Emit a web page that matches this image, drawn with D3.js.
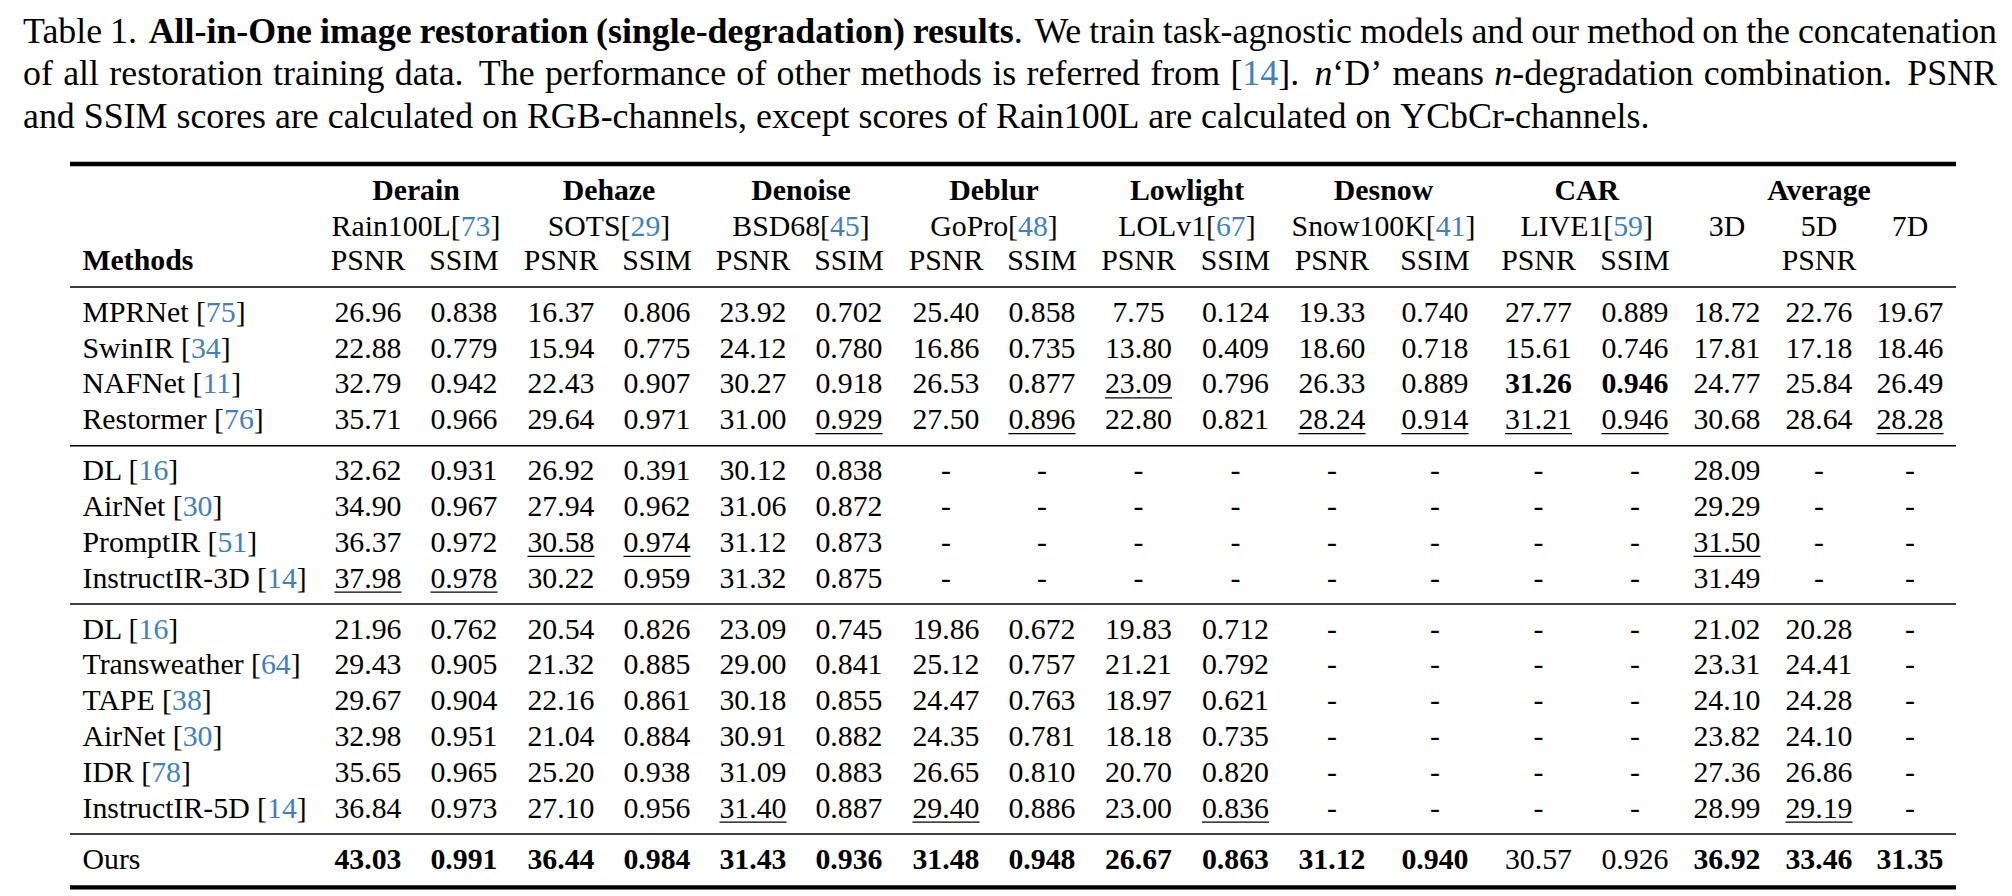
<!DOCTYPE html>
<html><head><meta charset="utf-8">
<script src="https://cdn.jsdelivr.net/npm/d3@7"></script>
<style>html,body{margin:0;padding:0;background:#fff;overflow:hidden;} svg{display:block;}</style>
</head><body>
<script>
// ---------------- DATA ----------------
const methods = ["MPRNet","SwinIR","NAFNet","Restormer","DL","AirNet","PromptIR","InstructIR-3D","DL","Transweather","TAPE","AirNet","IDR","InstructIR-5D","Ours"];
const methodRefs = ["75","34","11","76","16","30","51","14","16","64","38","30","78","14",null];
const rowGroups = [0,0,0,0,1,1,1,1,2,2,2,2,2,2,3];

const tasks = ["Derain","Dehaze","Denoise","Deblur","Lowlight","Desnow","CAR"];
const datasets = ["Rain100L","SOTS","BSD68","GoPro","LOLv1","Snow100K","LIVE1"];
const datasetRefs = ["73","29","45","48","67","41","59"];
const metricLabels = ["PSNR","SSIM"];
const avgTitle = "Average";
const avgLabels = ["3D","5D","7D"];

const derainPSNR  = [26.96,22.88,32.79,35.71,32.62,34.90,36.37,37.98,21.96,29.43,29.67,32.98,35.65,36.84,43.03];
const derainSSIM  = [0.838,0.779,0.942,0.966,0.931,0.967,0.972,0.978,0.762,0.905,0.904,0.951,0.965,0.973,0.991];
const dehazePSNR  = [16.37,15.94,22.43,29.64,26.92,27.94,30.58,30.22,20.54,21.32,22.16,21.04,25.20,27.10,36.44];
const dehazeSSIM  = [0.806,0.775,0.907,0.971,0.391,0.962,0.974,0.959,0.826,0.885,0.861,0.884,0.938,0.956,0.984];
const denoisePSNR = [23.92,24.12,30.27,31.00,30.12,31.06,31.12,31.32,23.09,29.00,30.18,30.91,31.09,31.40,31.43];
const denoiseSSIM = [0.702,0.780,0.918,0.929,0.838,0.872,0.873,0.875,0.745,0.841,0.855,0.882,0.883,0.887,0.936];
const deblurPSNR  = [25.40,16.86,26.53,27.50,null,null,null,null,19.86,25.12,24.47,24.35,26.65,29.40,31.48];
const deblurSSIM  = [0.858,0.735,0.877,0.896,null,null,null,null,0.672,0.757,0.763,0.781,0.810,0.886,0.948];
const lowlightPSNR= [7.75,13.80,23.09,22.80,null,null,null,null,19.83,21.21,18.97,18.18,20.70,23.00,26.67];
const lowlightSSIM= [0.124,0.409,0.796,0.821,null,null,null,null,0.712,0.792,0.621,0.735,0.820,0.836,0.863];
const desnowPSNR  = [19.33,18.60,26.33,28.24,null,null,null,null,null,null,null,null,null,null,31.12];
const desnowSSIM  = [0.740,0.718,0.889,0.914,null,null,null,null,null,null,null,null,null,null,0.940];
const carPSNR     = [27.77,15.61,31.26,31.21,null,null,null,null,null,null,null,null,null,null,30.57];
const carSSIM     = [0.889,0.746,0.946,0.946,null,null,null,null,null,null,null,null,null,null,0.926];
const avg3D       = [18.72,17.81,24.77,30.68,28.09,29.29,31.50,31.49,21.02,23.31,24.10,23.82,27.36,28.99,36.92];
const avg5D       = [22.76,17.18,25.84,28.64,null,null,null,null,20.28,24.41,24.28,24.10,26.86,29.19,33.46];
const avg7D       = [19.67,18.46,26.49,28.28,null,null,null,null,null,null,null,null,null,null,31.35];

// best (bold) and second best (underlined): "row:column"
const bestCells = ["2:carP","2:carS","14:derainP","14:derainS","14:dehazeP","14:dehazeS","14:denoiseP","14:denoiseS",
  "14:deblurP","14:deblurS","14:lowP","14:lowS","14:snowP","14:snowS","14:avg3","14:avg5","14:avg7"];
const secondCells = ["2:lowP","3:denoiseS","3:deblurS","3:snowP","3:snowS","3:carP","3:carS","3:avg7",
  "6:dehazeP","6:dehazeS","6:avg3","7:derainP","7:derainS","13:denoiseP","13:deblurP","13:lowS","13:avg5"];

const captionLines = [
  "Table 1.  **All-in-One image restoration (single-degradation) results**.  We train task-agnostic models and our method on the concatenation",
  "of all restoration training data.  The performance of other methods is referred from [{14}].  _n_‘D’ means _n_-degradation combination.  PSNR",
  "and SSIM scores are calculated on RGB-channels, except scores of Rain100L are calculated on YCbCr-channels."
];

// ---------------- LAYOUT ----------------
const columns = [
  {key:"derainP", v:derainPSNR, m:0},{key:"derainS", v:derainSSIM, m:1},
  {key:"dehazeP", v:dehazePSNR, m:0},{key:"dehazeS", v:dehazeSSIM, m:1},
  {key:"denoiseP",v:denoisePSNR,m:0},{key:"denoiseS",v:denoiseSSIM,m:1},
  {key:"deblurP", v:deblurPSNR, m:0},{key:"deblurS", v:deblurSSIM, m:1},
  {key:"lowP",    v:lowlightPSNR,m:0},{key:"lowS",   v:lowlightSSIM,m:1},
  {key:"snowP",   v:desnowPSNR, m:0},{key:"snowS",   v:desnowSSIM, m:1},
  {key:"carP",    v:carPSNR,    m:0},{key:"carS",    v:carSSIM,    m:1},
  {key:"avg3",    v:avg3D,      m:0},{key:"avg5",    v:avg5D,      m:0},{key:"avg7", v:avg7D, m:0}
];
const colCenters = [368,464,561,657,753,849,946,1042,1138.5,1235.5,1332,1435,1538.5,1635,1727,1819,1910];

const W = 2012, H = 896;
const FONT = "'Liberation Serif','Times New Roman',Times,serif";
const BLUE = "#3f7fc2";
const FS = 29.8;
const tableLeft = 70, tableRight = 1956, nameX = 82.5;

const x = d3.scaleOrdinal().domain(columns.map(c => c.key)).range(colCenters);
const yRow = d3.scaleLinear().domain([0, 1]).range([321.7, 357.5]);
const groupGap = 15.2;
const y = i => yRow(i) + rowGroups[i] * groupGap;
const fmt = [d3.format(".2f"), d3.format(".3f")];

const svg = d3.select("body").append("svg").attr("width", W).attr("height", H)
  .style("font-family", FONT).attr("fill", "#000");
svg.append("rect").attr("width", W).attr("height", H).attr("fill", "#fff");

// ---------------- CAPTION ----------------
function parseLine(str) {
  const words = [], gaps = [];
  let cur = [], buf = "", b = false, it = false, c = false;
  const flush = () => { if (buf) { cur.push({t: buf, b, i: it, c}); buf = ""; } };
  for (let k = 0; k < str.length; k++) {
    const ch = str[k];
    if (str.startsWith("**", k)) { flush(); b = !b; k++; continue; }
    if (ch === "_") { flush(); it = !it; continue; }
    if (ch === "{") { flush(); c = true; continue; }
    if (ch === "}") { flush(); c = false; continue; }
    if (ch === " ") {
      flush();
      if (cur.length) { words.push(cur); cur = []; gaps.push(1); }
      else gaps[gaps.length - 1] += 1;
      continue;
    }
    buf += ch;
  }
  flush(); if (cur.length) words.push(cur);
  return {words, gaps};
}
function addPieces(sel, pieces) {
  pieces.forEach(p => {
    const t = sel.append("tspan").text(p.t);
    if (p.b) t.attr("font-weight", "bold");
    if (p.i) t.attr("font-style", "italic");
    if (p.c) t.attr("fill", BLUE);
  });
}
const capG = svg.append("g");
const parsed = captionLines.map(parseLine);
function measureLine(pl, fs) {
  const tmp = capG.append("g");
  const ws = pl.words.map(w => {
    const t = tmp.append("text").attr("font-size", fs);
    addPieces(t, w);
    return t.node().getComputedTextLength();
  });
  tmp.remove();
  return ws;
}
const capLeft = 23, capRight = 1997, lastLineRight = 1650;
const spaceW = g => (g >= 2 ? 0.37 : 0.25);
// font size from natural width of last (unjustified) line
const ref = 100;
const w3 = measureLine(parsed[2], ref);
const nat3 = d3.sum(w3) + d3.sum(parsed[2].gaps, g => spaceW(g) * ref);
const capFS = ref * (lastLineRight - capLeft) / nat3;
const capBaselines = [42.5, 85, 127.5];
parsed.forEach((pl, li) => {
  const ws = measureLine(pl, capFS);
  const spaces = pl.gaps.map(g => spaceW(g) * capFS);
  let extra = 0;
  if (li < parsed.length - 1) {
    const total = d3.sum(ws) + d3.sum(spaces);
    extra = (capRight - capLeft - total) / d3.sum(spaces);
  }
  let cx = capLeft;
  pl.words.forEach((w, j) => {
    const t = capG.append("text").attr("font-size", capFS).attr("x", cx).attr("y", capBaselines[li]);
    addPieces(t, w);
    cx += ws[j] + (j < spaces.length ? spaces[j] * (1 + extra) : 0);
  });
});

// ---------------- RULES ----------------
const rules = [
  {y: 164, w: 4.3},
  {y: 287, w: 1.6},
  {y: y(3) + 16.7, w: 1.6},
  {y: y(7) + 16.5, w: 1.6},
  {y: y(13) + 16.5, w: 1.6},
  {y: y(14) + 18.9, w: 4.4}
];
svg.append("g").selectAll("line").data(rules).join("line")
  .attr("x1", tableLeft).attr("x2", tableRight)
  .attr("y1", d => d.y).attr("y2", d => d.y)
  .attr("stroke", "#000").attr("stroke-width", d => d.w);

// ---------------- HEADER ----------------
const hdr = svg.append("g").attr("font-size", FS);
const taskCenters = tasks.map((t, k) => (x(columns[2*k].key) + x(columns[2*k+1].key)) / 2);
hdr.selectAll("text.task").data(tasks).join("text").attr("class", "task")
  .attr("x", (d, k) => taskCenters[k]).attr("y", 200).attr("text-anchor", "middle")
  .attr("font-weight", "bold").text(d => d);
hdr.append("text").attr("x", x("avg5")).attr("y", 200).attr("text-anchor", "middle")
  .attr("font-weight", "bold").text(avgTitle);
datasets.forEach((d, k) => {
  const t = hdr.append("text").attr("x", taskCenters[k]).attr("y", 236).attr("text-anchor", "middle");
  addPieces(t, [{t: d + "["}, {t: datasetRefs[k], c: true}, {t: "]"}]);
});
hdr.selectAll("text.avg").data(avgLabels).join("text").attr("class", "avg")
  .attr("x", (d, k) => x(["avg3","avg5","avg7"][k])).attr("y", 236).attr("text-anchor", "middle").text(d => d);
hdr.selectAll("text.metric").data(columns.slice(0, 14)).join("text").attr("class", "metric")
  .attr("x", d => x(d.key)).attr("y", 270).attr("text-anchor", "middle").text(d => metricLabels[d.m]);
hdr.append("text").attr("x", x("avg5")).attr("y", 270).attr("text-anchor", "middle").text(metricLabels[0]);
hdr.append("text").attr("x", nameX).attr("y", 270).attr("font-weight", "bold").text("Methods");

// ---------------- BODY ----------------
const body = svg.append("g").attr("font-size", FS);
methods.forEach((m, i) => {
  const t = body.append("text").attr("x", nameX).attr("y", y(i));
  if (methodRefs[i]) addPieces(t, [{t: m + " ["}, {t: methodRefs[i], c: true}, {t: "]"}]);
  else t.text(m);
});
const cells = [];
columns.forEach(col => col.v.forEach((v, i) => cells.push({col, i, v, id: i + ":" + col.key})));
const cellSel = body.selectAll("text.cell").data(cells).join("text").attr("class", "cell")
  .attr("x", d => x(d.col.key)).attr("y", d => y(d.i)).attr("text-anchor", "middle")
  .attr("font-weight", d => bestCells.includes(d.id) ? "bold" : null)
  .text(d => d.v == null ? "-" : fmt[d.col.m](d.v));
cellSel.filter(d => secondCells.includes(d.id)).each(function(d) {
  const w = this.getComputedTextLength();
  const cx = x(d.col.key), yy = y(d.i) + 4.6;
  body.append("line").attr("x1", cx - w/2).attr("x2", cx + w/2).attr("y1", yy).attr("y2", yy)
    .attr("stroke", "#000").attr("stroke-width", 1.3);
});
</script>
</body></html>
